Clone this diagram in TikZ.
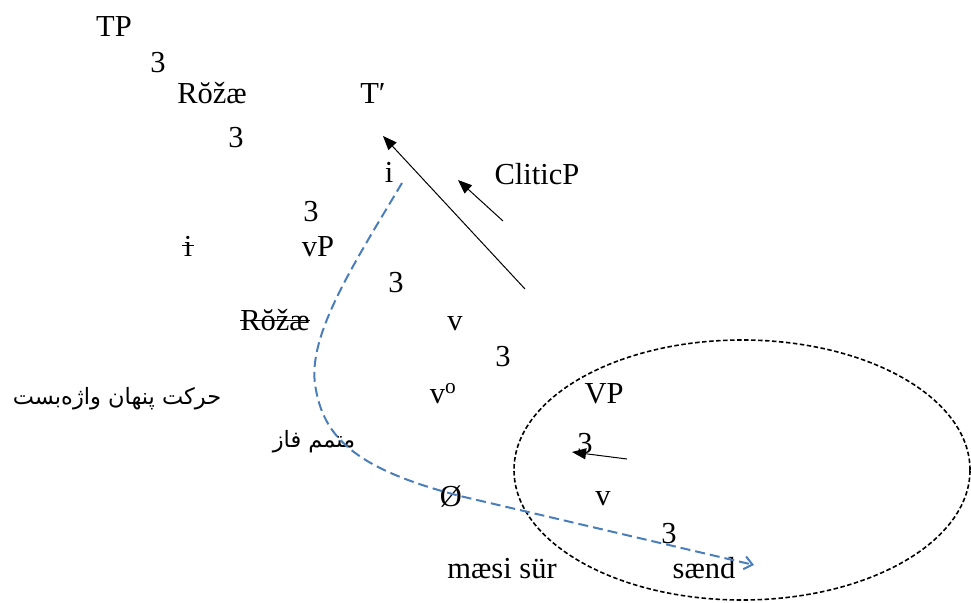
\documentclass[tikz,border=0pt]{standalone}
\usepackage{fontspec}
\setmainfont{Liberation Serif}
\newfontfamily\perfont[Script=Arabic]{DejaVu Sans}
\TeXXeTstate=1
\usetikzlibrary{arrows.meta,shapes.geometric}
\definecolor{movblue}{HTML}{4A7EBB}

\begin{document}
\begin{tikzpicture}[x=1pt,y=-1pt,
  lbl/.style={inner sep=0pt,anchor=base,font=\fontsize{30.5}{36}\selectfont},
  br/.style={lbl},
  fa/.style={lbl,font=\perfont\fontsize{22.5}{27}\selectfont},
  ar/.style={-{Triangle[length=14pt,width=11pt]},line width=1pt},
  mv/.style={dash pattern=on 10pt off 5pt,line width=2pt,movblue,-{Straight Barb[length=8pt,width=13pt]}},
  phase/.style={draw,ellipse,dash pattern=on 4.5pt off 2.5pt,line width=1.6pt,inner sep=0pt}]
\useasboundingbox (0,0) rectangle (971,602);

% tree
\node[lbl] (tp) at (114,37) {TP};
\node[br] (b1) at (158,73) {3};
\node[lbl] (roz) at (212,103) {Rŏžæ};
\node[lbl] (tbar) at (373,103) {T′};
\node[br] (b2) at (236,147) {3};
\node[lbl] (icl) at (389,182) {i};
\node[lbl] (clp) at (537,184) {CliticP};
\node[br] (b3) at (311,221) {3};
\node[lbl] (itr) at (188,256) {i};
\node[lbl] (vp) at (318,256) {vP};
\node[br] (b4) at (396,292) {3};
\node[lbl] (roztr) at (275,330) {Rŏžæ};
\node[lbl] (vbar) at (455,330) {v};
\node[br] (b5) at (503,366) {3};
\node[lbl] (vhead) at (443,403) {v\textsuperscript{o}};
\node[lbl] (bigvp) at (604,403) {VP};
\node[br] (b6) at (585,453) {3};
\node[lbl] (null) at (451,506) {Ø};
\node[lbl] (vsm) at (603,505) {v};
\node[br] (b7) at (669,543) {3};
\node[lbl] (obj) at (502,578) {mæsi sür};
\node[lbl] (verb) at (704,578) {sænd};

% traces
\draw[line width=1pt] ([yshift=10pt]roztr.base west) -- ([yshift=10pt]roztr.base east);
\draw[line width=1pt] ([xshift=-2pt,yshift=11pt]itr.base west) -- ([xshift=2pt,yshift=11pt]itr.base east);

% phase complement
\node[phase,minimum width=456pt,minimum height=260pt] (vpph) at (742,470) {};

% persian notes
\node[fa] (covert) at (117,404) {\perfont\beginR حرکت پنهان واژه‌بست\endR};
\node[fa] (phc) at (314,447) {\perfont\beginR متمم فاز\endR};

% movement arrows
\coordinate (clA) at (525,289);
\coordinate (clB) at (383,136);
\coordinate (ckA) at (503,221);
\coordinate (ckB) at (458,180);
\coordinate (vA) at (627,459);
\coordinate (vB) at (572,452);
\draw[ar] (clA) -- (clB);
\draw[ar] (ckA) -- (ckB);
\draw[ar] (vA) -- (vB);

% covert clitic movement
\coordinate (mvS) at (402,183);
\coordinate (mvE) at (754,565);
\draw[mv] (mvS) .. controls (350,270) and (305,340) .. (316,390)
  .. controls (325,440) and (360,470) .. (460,496) -- (mvE);
\end{tikzpicture}
\end{document}
